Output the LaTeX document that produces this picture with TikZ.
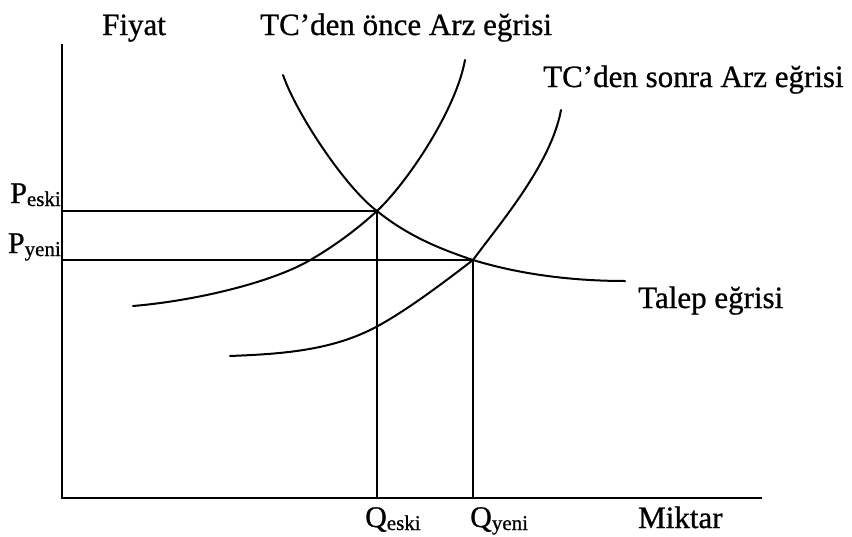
\documentclass[tikz,border=0pt]{standalone}
\usepackage{fontspec}
\setmainfont[FakeBold=0.8]{Liberation Serif}
\begin{document}
\begin{tikzpicture}[x=1pt,y=-1pt,
    lbl/.style={font=\fontsize{31}{31}\selectfont,inner sep=0pt,anchor=base west},
    big/.style={font=\fontsize{30}{30}\selectfont,inner sep=0pt},
    curve/.style={line width=2pt,line cap=round}]
    \useasboundingbox (0,0) rectangle (852,536);
    % axes
    \draw[line width=2.6pt] (62,44) -- (62,498) -- (762,498);
    \node[lbl] (fiyat) at (102,35) {Fiyat};
    \node[lbl] (miktar) at (638,528) {Miktar};
    % equilibria
    \coordinate (Eeski) at (377,211);
    \coordinate (Eyeni) at (473,260);
    \draw[line width=1.8pt] (62,211) -- (Eeski) -- (377,498);
    \draw[line width=1.8pt] (62,260) -- (Eyeni) -- (473,498);
    \node[big,anchor=base east] (peski) at (61,203) {P\raisebox{-3pt}{\fontsize{21}{21}\selectfont eski}};
    \node[big,anchor=base east] (pyeni) at (61,253) {P\raisebox{-3pt}{\fontsize{21}{21}\selectfont yeni}};
    \node[big,anchor=base west] (qeski) at (365,527) {Q\raisebox{-3pt}{\fontsize{21}{21}\selectfont eski}};
    \node[big,anchor=base west] (qyeni) at (470,527) {Q\raisebox{-3pt}{\fontsize{21}{21}\selectfont yeni}};
    % demand
    \draw[curve] (283,75) .. controls (297,115) and (346,188) .. (Eeski)
        .. controls (408,236) and (440,249) .. (Eyeni)
        .. controls (522,275) and (575,281) .. (625,281);
    \node[lbl] (talep) at (638,308) {Talep eğrisi};
    % supply before
    \draw[curve] (465,60) .. controls (456,110) and (407,183) .. (Eeski)
        .. controls (355,231) and (334,246) .. (312,259)
        .. controls (272,283) and (193,301) .. (133,306);
    \node[lbl] (arz1) at (260,35) {TC’den önce Arz eğrisi};
    % supply after
    \draw[curve] (561,110) .. controls (551,164) and (501,222) .. (Eyeni)
        .. controls (443,283) and (406,311) .. (376,327)
        .. controls (331,351) and (280,354) .. (230,356);
    \node[lbl] (arz2) at (543,87) {TC’den sonra Arz eğrisi};
\end{tikzpicture}
\end{document}
